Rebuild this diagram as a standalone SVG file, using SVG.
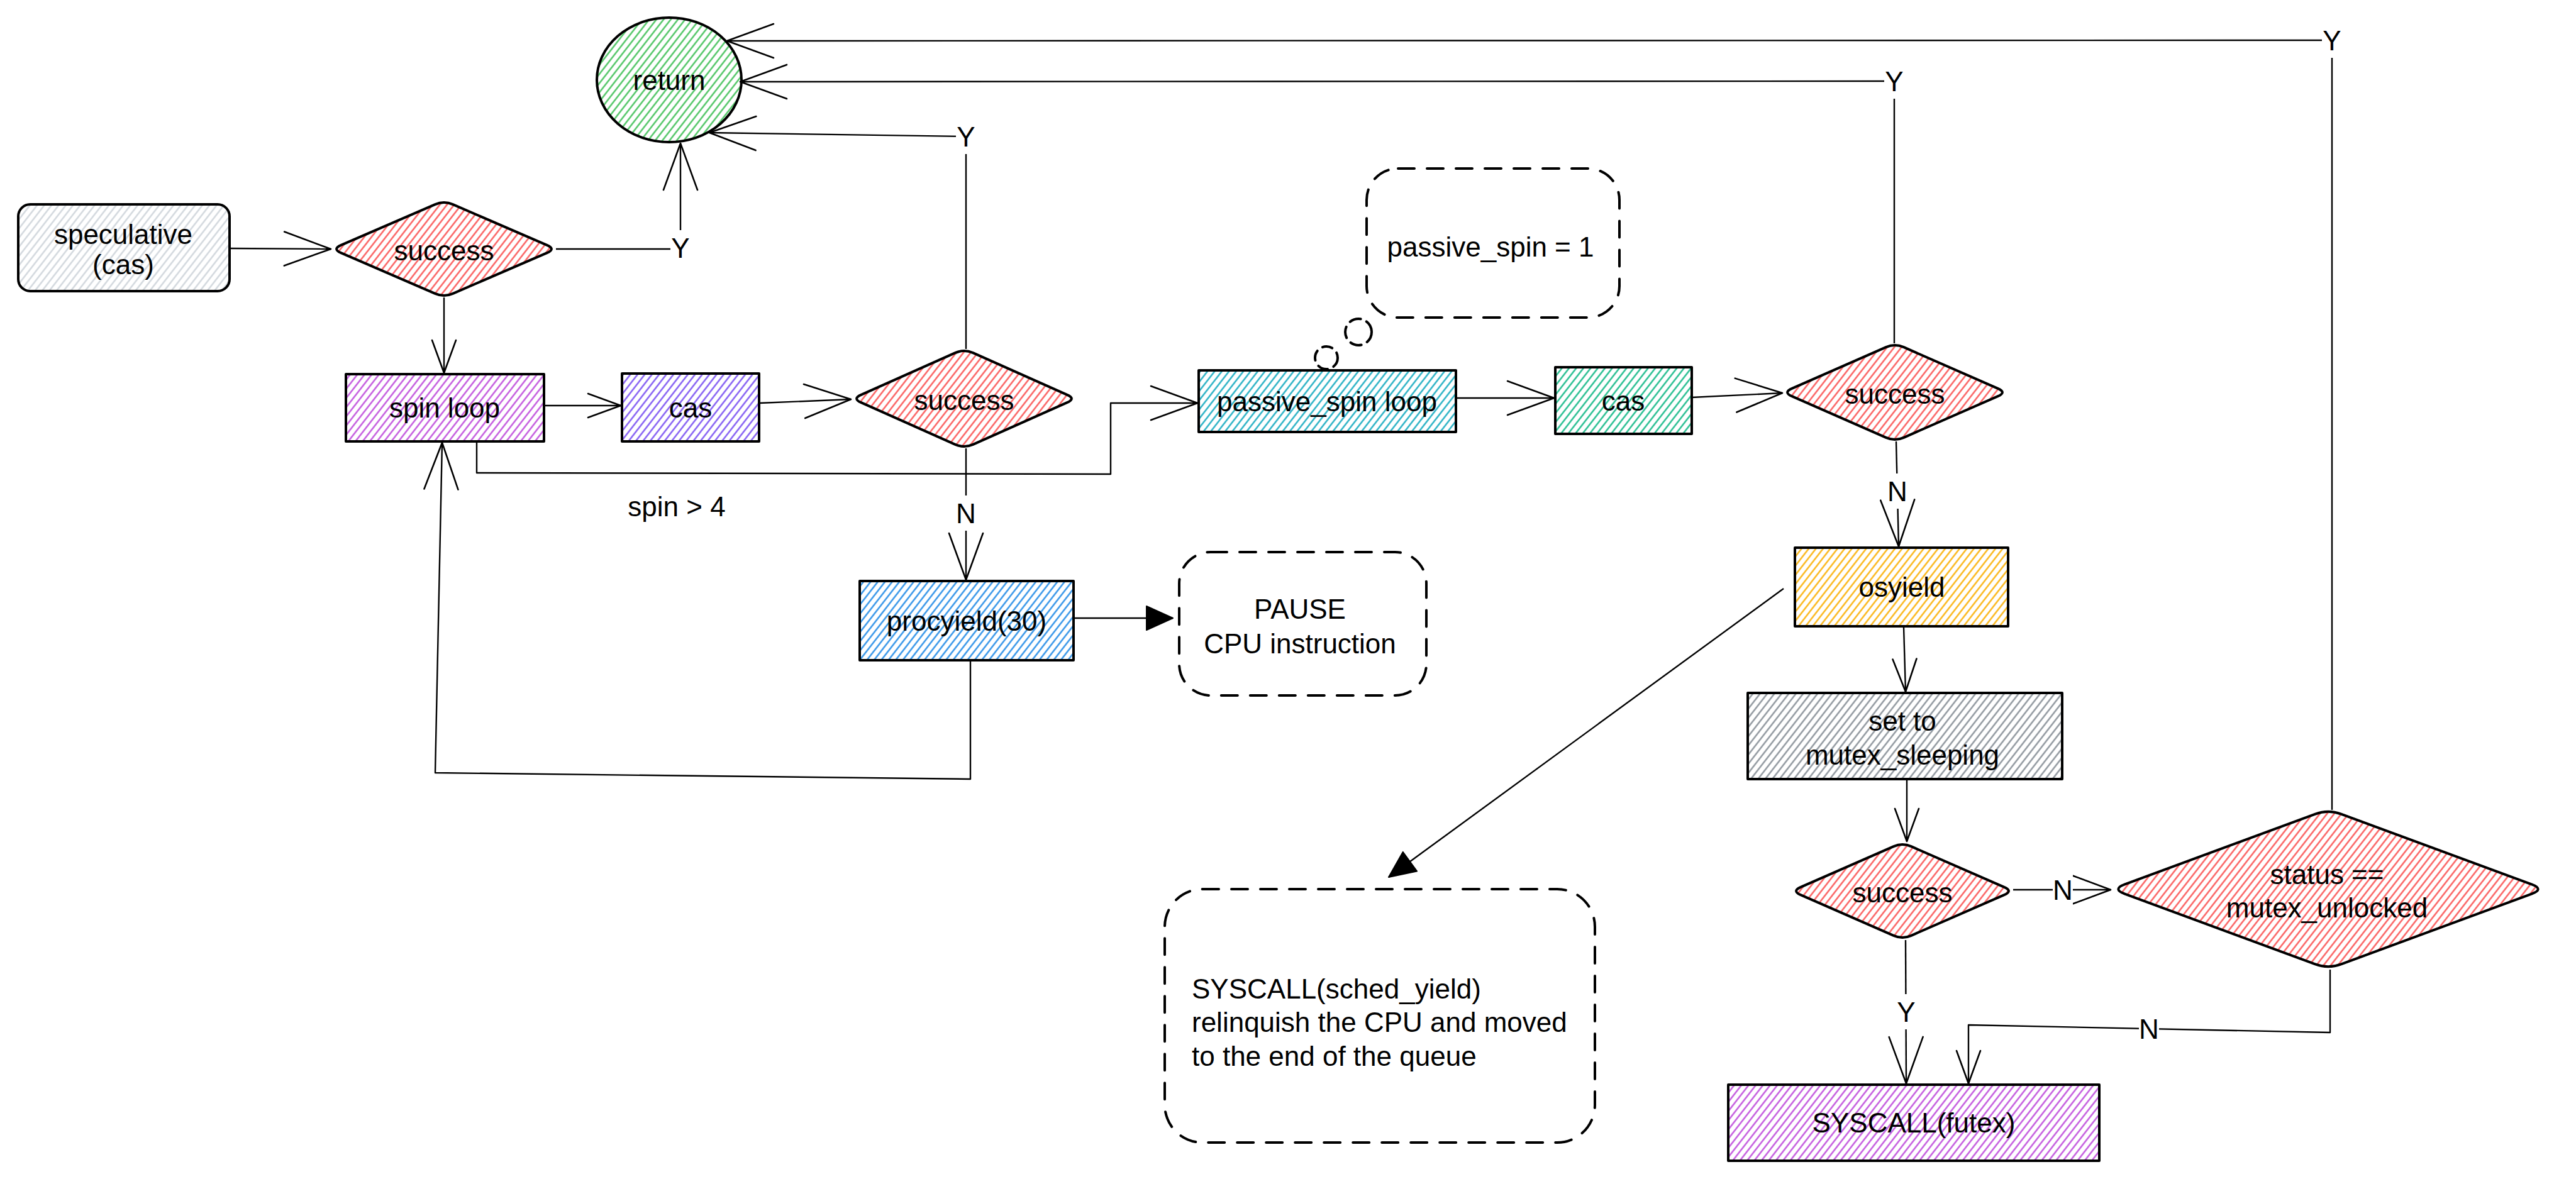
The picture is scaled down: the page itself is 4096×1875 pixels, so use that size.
<svg xmlns="http://www.w3.org/2000/svg" width="4096" height="1875" viewBox="0 0 4096 1875">
<style>
text { font-family: "Liberation Sans", Arial, sans-serif; font-size: 44px; fill: #000; }
.c { text-anchor: middle; dominant-baseline: central; }
.l { text-anchor: start; dominant-baseline: central; }
.node { stroke: #000; stroke-width: 4; stroke-linejoin: round; }
.conn { fill: none; stroke: #000; stroke-width: 2.4; stroke-linejoin: round; }
.cloud { fill: none; stroke: #000; stroke-width: 4; stroke-dasharray: 26 20; stroke-linecap: round; }
.gap { fill: #fff; }
</style>
<defs>
<pattern id="h-lgray" patternUnits="userSpaceOnUse" width="9" height="9" patternTransform="rotate(38)"><line x1="4.5" y1="-1" x2="4.5" y2="10" stroke="#ced4da" stroke-width="2.3"/></pattern>
<pattern id="h-red" patternUnits="userSpaceOnUse" width="9" height="9" patternTransform="rotate(38)"><line x1="4.5" y1="-1" x2="4.5" y2="10" stroke="#fa5252" stroke-width="2.3"/></pattern>
<pattern id="h-green" patternUnits="userSpaceOnUse" width="9" height="9" patternTransform="rotate(38)"><line x1="4.5" y1="-1" x2="4.5" y2="10" stroke="#40c057" stroke-width="2.3"/></pattern>
<pattern id="h-grape" patternUnits="userSpaceOnUse" width="9" height="9" patternTransform="rotate(38)"><line x1="4.5" y1="-1" x2="4.5" y2="10" stroke="#be4bdb" stroke-width="2.3"/></pattern>
<pattern id="h-violet" patternUnits="userSpaceOnUse" width="9" height="9" patternTransform="rotate(38)"><line x1="4.5" y1="-1" x2="4.5" y2="10" stroke="#7950f2" stroke-width="2.3"/></pattern>
<pattern id="h-cyan" patternUnits="userSpaceOnUse" width="9" height="9" patternTransform="rotate(38)"><line x1="4.5" y1="-1" x2="4.5" y2="10" stroke="#15aabf" stroke-width="2.3"/></pattern>
<pattern id="h-teal" patternUnits="userSpaceOnUse" width="9" height="9" patternTransform="rotate(38)"><line x1="4.5" y1="-1" x2="4.5" y2="10" stroke="#12b886" stroke-width="2.3"/></pattern>
<pattern id="h-blue" patternUnits="userSpaceOnUse" width="9" height="9" patternTransform="rotate(38)"><line x1="4.5" y1="-1" x2="4.5" y2="10" stroke="#228be6" stroke-width="2.3"/></pattern>
<pattern id="h-yellow" patternUnits="userSpaceOnUse" width="9" height="9" patternTransform="rotate(38)"><line x1="4.5" y1="-1" x2="4.5" y2="10" stroke="#fab005" stroke-width="2.3"/></pattern>
<pattern id="h-gray" patternUnits="userSpaceOnUse" width="9" height="9" patternTransform="rotate(38)"><line x1="4.5" y1="-1" x2="4.5" y2="10" stroke="#868e96" stroke-width="2.3"/></pattern>
<marker id="ah" markerUnits="userSpaceOnUse" orient="auto" overflow="visible" markerWidth="10" markerHeight="10" refX="0" refY="0"><path d="M-74,-27 L0,0 L-74,27" fill="none" stroke="#000" stroke-width="2.6" stroke-linecap="round" stroke-linejoin="round"/></marker>
<marker id="am" markerUnits="userSpaceOnUse" orient="auto" overflow="visible" markerWidth="10" markerHeight="10" refX="0" refY="0"><path d="M-62,-23 L0,0 L-62,23" fill="none" stroke="#000" stroke-width="2.6" stroke-linecap="round" stroke-linejoin="round"/></marker>
<marker id="as" markerUnits="userSpaceOnUse" orient="auto" overflow="visible" markerWidth="10" markerHeight="10" refX="0" refY="0"><path d="M-52,-19 L0,0 L-52,19" fill="none" stroke="#000" stroke-width="2.6" stroke-linecap="round" stroke-linejoin="round"/></marker>
<marker id="at" markerUnits="userSpaceOnUse" orient="auto" overflow="visible" markerWidth="10" markerHeight="10" refX="0" refY="0"><path d="M-42,-19 L0,0 L-42,19 Z" fill="#000" stroke="#000" stroke-width="2" stroke-linejoin="round"/></marker>
</defs>

<g id="connectors">
  <path class="conn" d="M366,395 L526,396" marker-end="url(#ah)"/>
  <path class="conn" d="M884,396 L1082,396 L1082,228" marker-end="url(#ah)"/>
  <path class="conn" d="M706,473 L706,593" marker-end="url(#as)"/>
  <path class="conn" d="M866,645 L987,645" marker-end="url(#as)"/>
  <path class="conn" d="M1208,641 L1353,635" marker-end="url(#ah)"/>
  <path class="conn" d="M1536,555 L1536,217 L1128,211" marker-end="url(#ah)"/>
  <path class="conn" d="M1536,713 L1536,922" marker-end="url(#ah)"/>
  <path class="conn" d="M1707,983 L1865,983" marker-end="url(#at)"/>
  <path class="conn" d="M1543,1050 L1543,1239 L692,1229 L703,704" marker-end="url(#ah)"/>
  <path class="conn" d="M758,702 L758,752 L1766,754 L1766,641 L1904,641" marker-end="url(#ah)"/>
  <path class="conn" d="M2315,633 L2471,633" marker-end="url(#ah)"/>
  <path class="conn" d="M2690,632 L2834,625" marker-end="url(#ah)"/>
  <path class="conn" d="M3012,546 L3012,129 L1177,130" marker-end="url(#ah)"/>
  <path class="conn" d="M3015,702 L3019,869" marker-end="url(#ah)"/>
  <path class="conn" d="M3027,997 L3030,1100" marker-end="url(#as)"/>
  <path class="conn" d="M2836,936 L2208,1395" marker-end="url(#at)"/>
  <path class="conn" d="M3032,1240 L3032,1338" marker-end="url(#as)"/>
  <path class="conn" d="M3201,1415 L3356,1415" marker-end="url(#am)"/>
  <path class="conn" d="M3030,1495 L3031,1723" marker-end="url(#ah)"/>
  <path class="conn" d="M3705,1542 L3705,1642 L3130,1630 L3130,1723" marker-end="url(#as)"/>
  <path class="conn" d="M3708,1288 L3708,64 L1156,65" marker-end="url(#ah)"/>
  <g id="connector-labels">
    <rect class="gap" x="1066" y="366" width="32" height="56"/><text class="c" x="1082" y="394">Y</text>
    <rect class="gap" x="1520" y="189" width="32" height="56"/><text class="c" x="1536" y="217">Y</text>
    <rect class="gap" x="2996" y="101" width="32" height="56"/><text class="c" x="3012" y="129">Y</text>
    <rect class="gap" x="3692" y="36" width="32" height="56"/><text class="c" x="3708" y="64">Y</text>
    <rect class="gap" x="1520" y="788" width="32" height="56"/><text class="c" x="1536" y="816">N</text>
    <rect class="gap" x="3001" y="753" width="32" height="56"/><text class="c" x="3017" y="781">N</text>
    <rect class="gap" x="3264" y="1387" width="32" height="56"/><text class="c" x="3280" y="1415">N</text>
    <rect class="gap" x="3015" y="1581" width="32" height="56"/><text class="c" x="3031" y="1609">Y</text>
    <rect class="gap" x="3401" y="1608" width="32" height="56"/><text class="c" x="3417" y="1636">N</text>
    <text class="c" x="1076" y="805">spin &gt; 4</text>
  </g>
</g>

<g id="n-return">
  <ellipse class="node" cx="1064" cy="127" rx="115" ry="99" fill="url(#h-green)"/>
  <text class="c" x="1064" y="127">return</text>
</g>
<g id="n-speculative">
  <rect class="node" x="29" y="325" width="336" height="138" rx="19" fill="url(#h-lgray)"/>
  <text class="c" x="196" y="372">speculative</text>
  <text class="c" x="196" y="420">(cas)</text>
</g>
<g id="n-success1">
  <path class="node" fill="url(#h-red)" d="M720.2,325.2 L869.8,389.8 Q884,396 869.8,402.2 L720.2,466.8 Q706,473 691.8,466.8 L542.2,402.2 Q528,396 542.2,389.8 L691.8,325.2 Q706,319 720.2,325.2 Z"/>
  <text class="c" x="706" y="398">success</text>
</g>
<g id="n-spinloop">
  <rect class="node" x="550" y="595" width="315" height="107" fill="url(#h-grape)"/>
  <text class="c" x="707" y="648">spin loop</text>
</g>
<g id="n-cas1">
  <rect class="node" x="989" y="594" width="218" height="108" fill="url(#h-violet)"/>
  <text class="c" x="1098" y="648">cas</text>
</g>
<g id="n-success2">
  <path class="node" fill="url(#h-red)" d="M1547.2,561.2 L1696.8,627.8 Q1711,634 1696.8,640.2 L1547.2,706.8 Q1533,713 1518.8,706.8 L1369.2,640.2 Q1355,634 1369.2,627.8 L1518.8,561.2 Q1533,555 1547.2,561.2 Z"/>
  <text class="c" x="1533" y="636">success</text>
</g>
<g id="n-procyield">
  <rect class="node" x="1367" y="924" width="340" height="126" fill="url(#h-blue)"/>
  <text class="c" x="1537" y="987">procyield(30)</text>
</g>
<g id="n-pause">
  <rect class="cloud" x="1875" y="878" width="393" height="228" rx="50"/>
  <text class="c" x="2067" y="968">PAUSE</text>
  <text class="c" x="2067" y="1023">CPU instruction</text>
</g>
<g id="n-passivespin">
  <rect class="node" x="1906" y="589" width="409" height="98" fill="url(#h-cyan)"/>
  <text class="c" x="2110" y="638">passive_spin loop</text>
</g>
<g id="n-passivenote">
  <rect class="cloud" x="2173" y="268" width="402" height="237" rx="50"/>
  <circle class="cloud" cx="2160" cy="528" r="21" style="stroke-dasharray:18 10"/>
  <circle class="cloud" cx="2109" cy="569" r="18" style="stroke-dasharray:16 10"/>
  <text class="c" x="2370" y="392">passive_spin = 1</text>
</g>
<g id="n-cas2">
  <rect class="node" x="2473" y="584" width="217" height="106" fill="url(#h-teal)"/>
  <text class="c" x="2581" y="637">cas</text>
</g>
<g id="n-success3">
  <path class="node" fill="url(#h-red)" d="M3027.2,552.2 L3176.8,617.8 Q3191,624 3176.8,630.2 L3027.2,695.8 Q3013,702 2998.8,695.8 L2849.2,630.2 Q2835,624 2849.2,617.8 L2998.8,552.2 Q3013,546 3027.2,552.2 Z"/>
  <text class="c" x="3013" y="626">success</text>
</g>
<g id="n-osyield">
  <rect class="node" x="2854" y="871" width="339" height="125" fill="url(#h-yellow)"/>
  <text class="c" x="3024" y="933">osyield</text>
</g>
<g id="n-schedyield">
  <rect class="cloud" x="1852" y="1414" width="684" height="403" rx="60"/>
  <text class="l" x="1895" y="1572">SYSCALL(sched_yield)</text>
  <text class="l" x="1895" y="1625">relinquish the CPU and moved</text>
  <text class="l" x="1895" y="1679">to the end of the queue</text>
</g>
<g id="n-setsleeping">
  <rect class="node" x="2779" y="1102" width="500" height="137" fill="url(#h-gray)"/>
  <text class="c" x="3025" y="1146">set to</text>
  <text class="c" x="3025" y="1200">mutex_sleeping</text>
</g>
<g id="n-success4">
  <path class="node" fill="url(#h-red)" d="M3039.1,1346.2 L3186.9,1410.8 Q3201,1417 3186.9,1423.2 L3039.1,1487.8 Q3025,1494 3010.9,1487.8 L2863.1,1423.2 Q2849,1417 2863.1,1410.8 L3010.9,1346.2 Q3025,1340 3039.1,1346.2 Z"/>
  <text class="c" x="3025" y="1419">success</text>
</g>
<g id="n-status">
  <path class="node" fill="url(#h-red)" d="M3722.6,1294.6 L4025.4,1406.4 Q4046,1414 4025.4,1421.6 L3722.6,1533.4 Q3702,1541 3681.4,1533.4 L3378.6,1421.6 Q3358,1414 3378.6,1406.4 L3681.4,1294.6 Q3702,1287 3722.6,1294.6 Z"/>
  <text class="c" x="3700" y="1390">status ==</text>
  <text class="c" x="3700" y="1443">mutex_unlocked</text>
</g>
<g id="n-futex">
  <rect class="node" x="2748" y="1725" width="590" height="121" fill="url(#h-grape)"/>
  <text class="c" x="3043" y="1785">SYSCALL(futex)</text>
</g>
</svg>
